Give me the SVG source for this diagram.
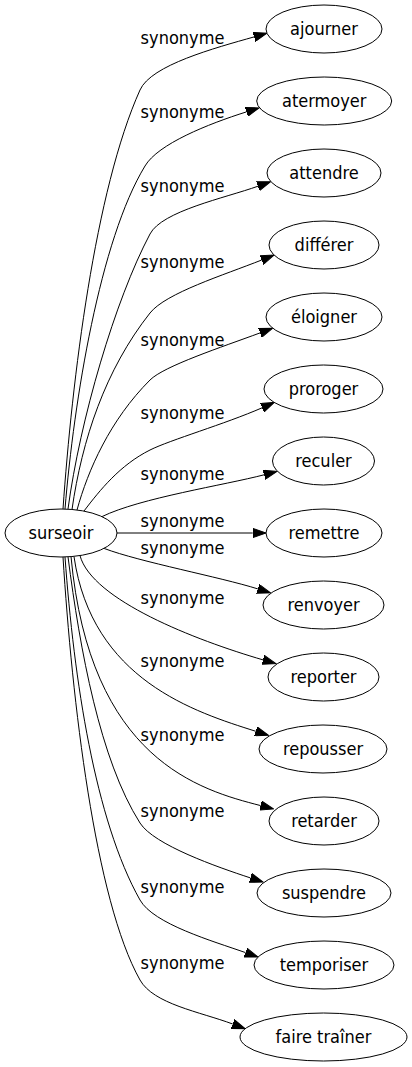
<svg xmlns="http://www.w3.org/2000/svg" width="412" height="1067" viewBox="0 0 412 1067">
<style>
.node ellipse{fill:#fff;stroke:#000;stroke-width:1}
.node text{font-family:"DejaVu Sans Condensed","DejaVu Sans",sans-serif;font-stretch:condensed;font-size:18px;fill:#000;text-anchor:middle}
#edges path{fill:none;stroke:#000;stroke-width:1;marker-end:url(#arr)}
#labels text{font-family:"DejaVu Sans Condensed","DejaVu Sans",sans-serif;font-stretch:condensed;font-size:18px;fill:#000;text-anchor:middle}
</style>
<defs>
<marker id="arr" markerWidth="14" markerHeight="10" refX="0" refY="5" orient="auto" markerUnits="userSpaceOnUse" viewBox="0 0 14 10">
<path d="M0,0.33 L13.3,5 L0,9.67 z" fill="#000" stroke="#000" stroke-width="1"/>
</marker>
</defs>
<rect width="412" height="1067" fill="#fff"/>
<g id="edges">
<path d="M63,509 C72,380 95,190 140,90 C151,65 215,48 254.1,36.9"/>
<path d="M65,509 C74,400 100,240 145,166 C158,144 208,124 246.4,111.9"/>
<path d="M68,509 C80,420 115,300 150,234 C162,211 225,198 258,186.2"/>
<path d="M72,509.5 C82,440 105,370 150,313 C165.8,293 224,275 261.7,260"/>
<path d="M77,510 C88,470 110,420 150,380 C164,366 222,347 260.1,332.9"/>
<path d="M84,511 C100,490 120,465 150,450 C170,440 225,424 262.1,407.8"/>
<path d="M102,516.6 C140,498 225,485 264.1,474.8"/>
<path d="M117,533 L252.7,533"/>
<path d="M104,548.4 C140,562 220,577 257.8,588.9"/>
<path d="M80,555.6 C92,600 195,640 263.1,659.9"/>
<path d="M74,556.6 C92,680 195,712 255.8,731.3"/>
<path d="M71,556.6 C90,760 200,790 260.6,805.6"/>
<path d="M68,556.8 C80,650 100,760 140,823 C154,845 217.2,867 250.4,877.9"/>
<path d="M65,557 C74,680 95,820 140,900 C153.5,924 212.6,941 245.5,952.6"/>
<path d="M63,557 C72,700 95,900 140,980 C153.5,1004 199.8,1011.8 232.7,1024"/>
</g>
<g id="labels">
<text x="182.5" y="44">synonyme</text>
<text x="182.5" y="118">synonyme</text>
<text x="182.5" y="192">synonyme</text>
<text x="182.5" y="268">synonyme</text>
<text x="182.5" y="346">synonyme</text>
<text x="182.5" y="419">synonyme</text>
<text x="182.5" y="480">synonyme</text>
<text x="182.5" y="527">synonyme</text>
<text x="182.5" y="554">synonyme</text>
<text x="182.5" y="604">synonyme</text>
<text x="182.5" y="667">synonyme</text>
<text x="182.5" y="741">synonyme</text>
<text x="182.5" y="817">synonyme</text>
<text x="182.5" y="893">synonyme</text>
<text x="182.5" y="969">synonyme</text>
</g>
<g id="n-surseoir" class="node"><ellipse cx="61" cy="533" rx="56" ry="24"/><text x="61" y="539">surseoir</text></g>
<g id="n-ajourner" class="node"><ellipse cx="324" cy="29" rx="58" ry="24"/><text x="324" y="35">ajourner</text></g>
<g id="n-atermoyer" class="node"><ellipse cx="324.2" cy="101" rx="67.5" ry="24"/><text x="324.2" y="107">atermoyer</text></g>
<g id="n-attendre" class="node"><ellipse cx="324" cy="173" rx="57" ry="24"/><text x="324" y="179">attendre</text></g>
<g id="n-differer" class="node"><ellipse cx="324" cy="245" rx="55" ry="24"/><text x="324" y="251">différer</text></g>
<g id="n-eloigner" class="node"><ellipse cx="324" cy="317" rx="58" ry="24"/><text x="324" y="323">éloigner</text></g>
<g id="n-proroger" class="node"><ellipse cx="323.5" cy="389" rx="59.5" ry="24"/><text x="323.5" y="395">proroger</text></g>
<g id="n-reculer" class="node"><ellipse cx="323.5" cy="461" rx="51" ry="24"/><text x="323.5" y="467">reculer</text></g>
<g id="n-remettre" class="node"><ellipse cx="324" cy="533" rx="58" ry="24"/><text x="324" y="539">remettre</text></g>
<g id="n-renvoyer" class="node"><ellipse cx="323.5" cy="605" rx="60.5" ry="24"/><text x="323.5" y="611">renvoyer</text></g>
<g id="n-reporter" class="node"><ellipse cx="323.5" cy="677" rx="55.5" ry="24"/><text x="323.5" y="683">reporter</text></g>
<g id="n-repousser" class="node"><ellipse cx="323" cy="749" rx="64" ry="24"/><text x="323" y="755">repousser</text></g>
<g id="n-retarder" class="node"><ellipse cx="324" cy="821" rx="55" ry="24"/><text x="324" y="827">retarder</text></g>
<g id="n-suspendre" class="node"><ellipse cx="324" cy="893" rx="67" ry="24"/><text x="324" y="899">suspendre</text></g>
<g id="n-temporiser" class="node"><ellipse cx="324" cy="965" rx="70" ry="24"/><text x="324" y="971">temporiser</text></g>
<g id="n-faire-trainer" class="node"><ellipse cx="323.5" cy="1037" rx="83.5" ry="24"/><text x="323.5" y="1043">faire traîner</text></g>
</svg>
